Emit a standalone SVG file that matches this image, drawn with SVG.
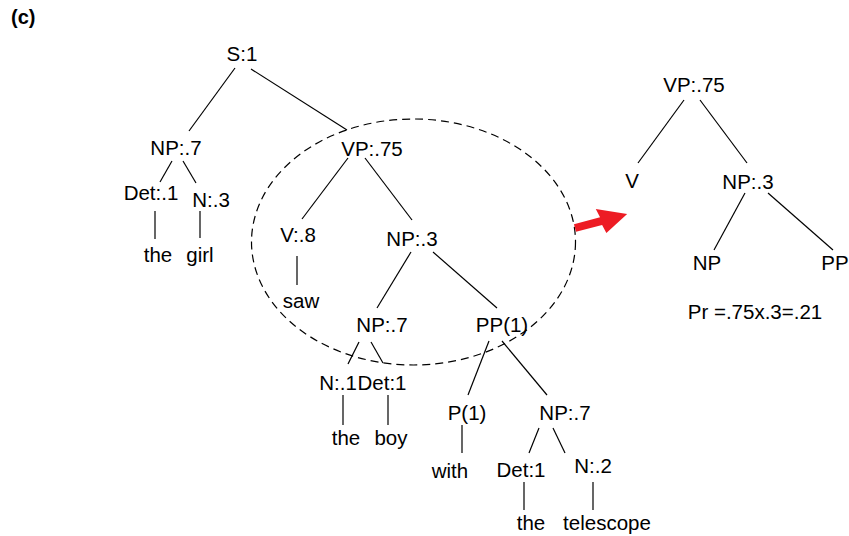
<svg xmlns="http://www.w3.org/2000/svg" width="849" height="536" viewBox="0 0 849 536">
<style>
text{font-family:"Liberation Sans",Arial,sans-serif;font-size:20.5px;fill:#000;text-anchor:middle}
.e line{stroke:#000;stroke-width:1.2}
</style>
<rect width="849" height="536" fill="#fff"/>
<text x="11" y="24" style="font-weight:bold;font-size:20px;text-anchor:start">(c)</text>
<g id="connectors" class="e">
<line x1="235" y1="68" x2="189" y2="131"/>
<line x1="251" y1="69" x2="347" y2="130"/>
<line x1="172" y1="161" x2="160" y2="182"/>
<line x1="183" y1="161" x2="196" y2="183"/>
<line x1="155" y1="211" x2="155" y2="239"/>
<line x1="200" y1="211" x2="200" y2="238"/>
<line x1="348" y1="158" x2="302" y2="219"/>
<line x1="365" y1="158" x2="412" y2="220"/>
<line x1="297" y1="256" x2="297" y2="285"/>
<line x1="411" y1="252" x2="377" y2="308"/>
<line x1="433" y1="252" x2="497" y2="308"/>
<line x1="359" y1="342" x2="348" y2="364"/>
<line x1="371" y1="342" x2="383" y2="363"/>
<line x1="343" y1="395" x2="343" y2="425"/>
<line x1="388" y1="395" x2="388" y2="425"/>
<line x1="489" y1="341" x2="468" y2="395"/>
<line x1="502" y1="341" x2="547" y2="395"/>
<line x1="462" y1="425" x2="462" y2="453"/>
<line x1="539" y1="428" x2="529" y2="453"/>
<line x1="553" y1="428" x2="565" y2="453"/>
<line x1="524" y1="482" x2="524" y2="510"/>
<line x1="593" y1="482" x2="593" y2="510"/>
<line x1="684" y1="100" x2="638" y2="163"/>
<line x1="700" y1="100" x2="747" y2="163"/>
<line x1="745" y1="193" x2="714" y2="250"/>
<line x1="768" y1="193" x2="833" y2="250"/>
</g>
<ellipse id="scope" cx="413.5" cy="242" rx="162" ry="123" fill="none" stroke="#000" stroke-width="1.2" stroke-dasharray="8,5"/>
<g id="arrow" transform="translate(575,228) rotate(-15)">
<polygon points="0,-4 27,-4 25,-13 54,0 29,13 27,4 0,4" fill="#ed1c24"/>
</g>
<g id="S"><text x="242" y="61">S:1</text></g>
<g id="NP1"><text x="176" y="155">NP:.7</text></g>
<g id="Det1"><text x="151" y="200">Det:.1</text></g>
<g id="N1"><text x="211" y="207">N:.3</text></g>
<g id="the1"><text x="158" y="262">the</text></g>
<g id="girl"><text x="200" y="262">girl</text></g>
<g id="VP"><text x="372" y="156">VP:.75</text></g>
<g id="V"><text x="298" y="242">V:.8</text></g>
<g id="saw"><text x="301" y="308">saw</text></g>
<g id="NP2"><text x="412" y="246">NP:.3</text></g>
<g id="NP3"><text x="382" y="332">NP:.7</text></g>
<g id="PP"><text x="502" y="332">PP(1)</text></g>
<g id="N2"><text x="338" y="390">N:.1</text></g>
<g id="Det2"><text x="382" y="390">Det:1</text></g>
<g id="the2"><text x="346" y="445">the</text></g>
<g id="boy"><text x="391" y="445">boy</text></g>
<g id="P"><text x="467" y="420">P(1)</text></g>
<g id="with"><text x="450" y="478">with</text></g>
<g id="NP4"><text x="565" y="420">NP:.7</text></g>
<g id="Det3"><text x="521" y="477">Det:1</text></g>
<g id="N3"><text x="593" y="473">N:.2</text></g>
<g id="the3"><text x="531" y="530">the</text></g>
<g id="telescope"><text x="607" y="530">telescope</text></g>
<g id="rVP"><text x="694" y="92">VP:.75</text></g>
<g id="rV"><text x="632" y="188">V</text></g>
<g id="rNP"><text x="748" y="189">NP:.3</text></g>
<g id="rNP2"><text x="707" y="270">NP</text></g>
<g id="rPP"><text x="835" y="270">PP</text></g>
<g id="prob"><text x="755" y="319">Pr =.75x.3=.21</text></g>
</svg>
